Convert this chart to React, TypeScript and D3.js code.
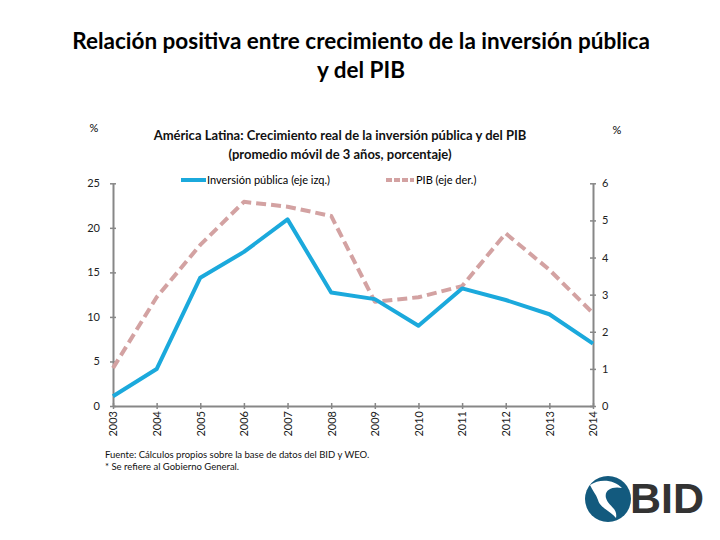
import React, { useEffect, useRef } from 'react';
import * as d3 from 'd3';

// data
const years = ['2003', '2004', '2005', '2006', '2007', '2008', '2009', '2010', '2011', '2012', '2013', '2014'];
const inversion = [1.1, 4.15, 14.4, 17.3, 20.95, 12.75, 12.0, 9.0, 13.2, 11.9, 10.3, 7.0];
const pib = [1.02, 2.93, 4.34, 5.5, 5.37, 5.12, 2.81, 2.93, 3.23, 4.65, 3.67, 2.5];
const leftTicks = [0, 5, 10, 15, 20, 25];
const rightTicks = [0, 1, 2, 3, 4, 5, 6];

const BLUE = '#1ba9dc';
const PINK = '#d3a2a2';
const AXIS = '#878787';
const FONT = 'Lato, "Open Sans", sans-serif';

const App: React.FC = () => {
    const svgRef = useRef<SVGSVGElement | null>(null);

    useEffect(() => {
        if (!svgRef.current) return;
        const svg = d3.select(svgRef.current);
        svg.selectAll('*').remove();

        const x0 = 113, x1 = 593, yTop = 183.3, yBottom = 406;

        const x = d3.scalePoint<string>().domain(years).range([x0, x1]);
        const yL = d3.scaleLinear().domain([0, 25]).range([yBottom, yTop]);
        const yR = d3.scaleLinear().domain([0, 6]).range([yBottom, yTop]);

        // titles
        const title = svg.append('text')
            .attr('x', 360).attr('text-anchor', 'middle')
            .attr('font-family', FONT).attr('font-weight', 'bold')
            .attr('font-size', 22.5).attr('fill', '#000');
        title.append('tspan').attr('x', 361).attr('y', 49).text('Relación positiva entre crecimiento de la inversión pública');
        title.append('tspan').attr('x', 361).attr('y', 78).text('y del PIB');

        const sub = svg.append('text')
            .attr('text-anchor', 'middle')
            .attr('font-family', FONT).attr('font-weight', 'bold')
            .attr('font-size', 13).attr('fill', '#111');
        sub.append('tspan').attr('x', 340).attr('y', 140).text('América Latina: Crecimiento real de la inversión pública y del PIB');
        sub.append('tspan').attr('x', 340).attr('y', 159).text('(promedio móvil de 3 años, porcentaje)');

        svg.append('text').attr('x', 94).attr('y', 132).attr('text-anchor', 'middle')
            .attr('font-family', FONT).attr('font-size', 11).text('%');
        svg.append('text').attr('x', 617).attr('y', 134).attr('text-anchor', 'middle')
            .attr('font-family', FONT).attr('font-size', 11).text('%');

        // legend
        const legend = svg.append('g').attr('font-family', FONT).attr('font-size', 11);
        legend.append('line').attr('x1', 181).attr('x2', 206).attr('y1', 180).attr('y2', 180)
            .attr('stroke', BLUE).attr('stroke-width', 4);
        legend.append('text').attr('x', 207).attr('y', 184).text('Inversión pública (eje izq.)');
        legend.append('line').attr('x1', 386).attr('x2', 414).attr('y1', 180).attr('y2', 180)
            .attr('stroke', PINK).attr('stroke-width', 4).attr('stroke-dasharray', '6,2');
        legend.append('text').attr('x', 416).attr('y', 184).text('PIB (eje der.)');

        // axes
        const styleAxis = (g: d3.Selection<SVGGElement, unknown, null, undefined>) => {
            g.select('.domain').attr('stroke', AXIS).attr('stroke-width', 2);
            g.selectAll('.tick line').attr('stroke', AXIS).attr('stroke-width', 1.5);
            g.selectAll('.tick text').attr('font-family', FONT).attr('font-size', 11).attr('fill', '#222');
        };

        const gL = svg.append('g').attr('transform', `translate(${x0},0)`)
            .call(d3.axisLeft(yL).tickValues(leftTicks).tickSizeOuter(0).tickSizeInner(3).tickPadding(10));
        gL.selectAll('.tick line').attr('x1', -3).attr('x2', 3);
        styleAxis(gL);

        const gR = svg.append('g').attr('transform', `translate(${x1},0)`)
            .call(d3.axisRight(yR).tickValues(rightTicks).tickFormat(d3.format('d')).tickSizeOuter(0).tickSizeInner(3).tickPadding(6));
        gR.selectAll('.tick line').attr('x1', -3).attr('x2', 3);
        styleAxis(gR);

        const gB = svg.append('g').attr('transform', `translate(0,${yBottom})`)
            .call(d3.axisBottom(x).tickSizeOuter(0).tickSizeInner(3));
        gB.selectAll('.tick line').attr('y1', -3).attr('y2', 3);
        styleAxis(gB);
        gB.selectAll('.tick text')
            .attr('transform', 'rotate(-90)')
            .attr('text-anchor', 'end')
            .attr('x', -5).attr('y', 0).attr('dy', '0.35em');

        // lines
        const lineL = d3.line<number>().x((_, i) => x(years[i])!).y(d => yL(d));
        const lineR = d3.line<number>().x((_, i) => x(years[i])!).y(d => yR(d));

        svg.append('path').datum(pib).attr('d', lineR)
            .attr('fill', 'none').attr('stroke', PINK).attr('stroke-width', 4)
            .attr('stroke-dasharray', '10,5').attr('stroke-linejoin', 'round');
        svg.append('path').datum(inversion).attr('d', lineL)
            .attr('fill', 'none').attr('stroke', BLUE).attr('stroke-width', 4)
            .attr('stroke-linejoin', 'round');

        // footnotes
        const foot = svg.append('g').attr('font-family', FONT).attr('font-size', 9.5).attr('fill', '#111');
        foot.append('text').attr('x', 105).attr('y', 458).text('Fuente: Cálculos propios sobre la base de datos del BID y WEO.');
        foot.append('text').attr('x', 105).attr('y', 470).text('* Se refiere al Gobierno General.');

        // BID logo
        const logo = svg.append('g');
        logo.append('circle').attr('cx', 608).attr('cy', 499).attr('r', 23).attr('fill', '#135a7e');
        logo.append('path')
            .attr('d', 'M590,485 C600,478 615,480 622,488 C612,486 604,490 606,498 C608,506 618,508 616,518 C612,512 600,508 598,500 C596,494 592,490 590,485 Z')
            .attr('fill', '#ffffff');
        logo.append('text').attr('x', 630).attr('y', 513)
            .attr('font-family', '"Liberation Sans", Arial, sans-serif').attr('font-weight', 'bold')
            .attr('font-size', 43).attr('fill', '#333333').text('BID');
    }, []);

    return (
        <svg ref={svgRef} width={720} height={540} style={{ position: 'absolute', left: 0, top: 0, background: '#fff' }} />
    );
};

export default App;
